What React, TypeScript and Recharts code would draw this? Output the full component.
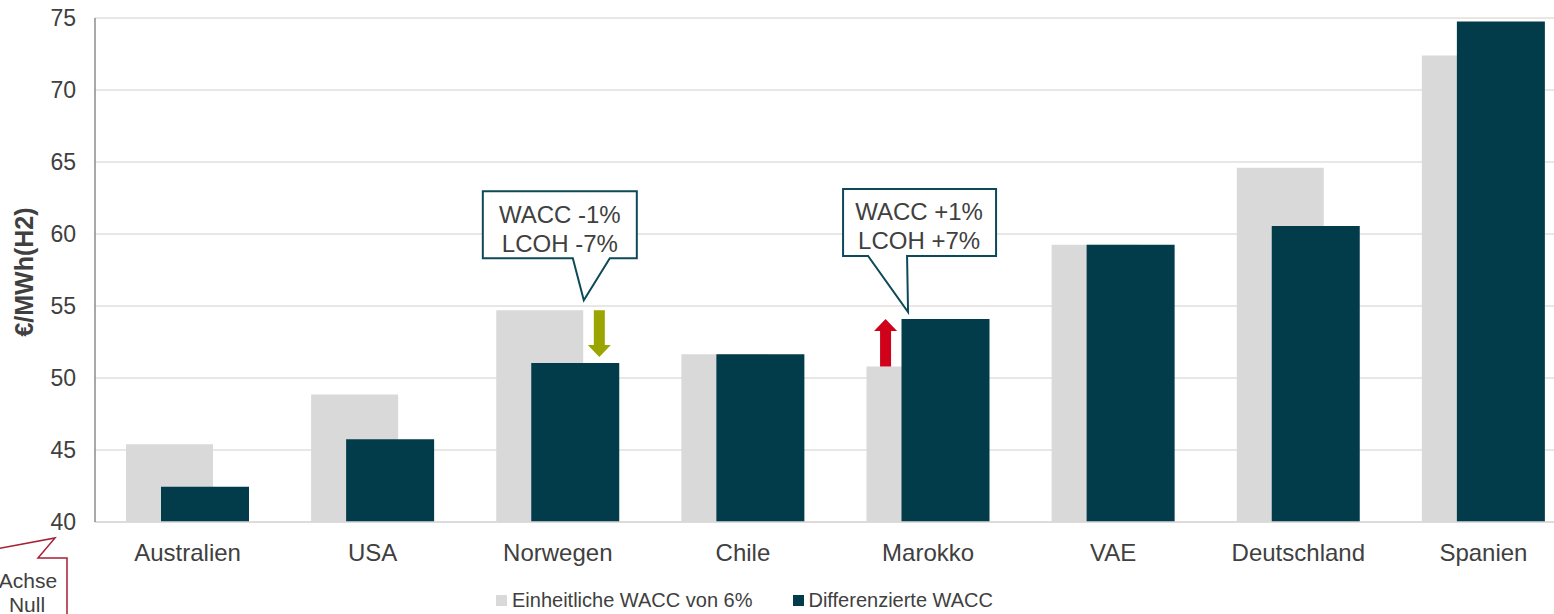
import React from 'react';
import { BarChart, Bar, XAxis, YAxis, CartesianGrid, Legend, ReferenceDot, ReferenceLine } from 'recharts';

const countries = ['Australien', 'USA', 'Norwegen', 'Chile', 'Marokko', 'VAE', 'Deutschland', 'Spanien'];
const uniformWacc = [45.4, 48.85, 54.7, 51.65, 50.8, 59.25, 64.6, 72.4];
const differentiatedWacc = [42.45, 45.75, 51.05, 51.65, 54.1, 59.25, 60.55, 74.75];
const yTicks = [40, 45, 50, 55, 60, 65, 70, 75];

const seriesNames = ['Einheitliche WACC von 6%', 'Differenzierte WACC'];
const calloutDown = ['WACC -1%', 'LCOH -7%'];
const calloutUp = ['WACC +1%', 'LCOH +7%'];

const GRAY = '#d9d9d9';
const TEAL = '#023c4b';
const TEXT = '#404040';
const FONT = 'Liberation Sans, Arial, sans-serif';

const data = countries.map((name, i) => ({
  name,
  uniform: uniformWacc[i],
  diff: differentiatedWacc[i],
}));

// arrow drawn along a vertical segment (x1,y1) -> (x2,y2), shifted sideways by dx
const makeArrow = (color: string, dx: number, tipGap: number) => (p: any) => {
  const x = p.x1 + dx;
  const y0 = p.y1;
  const dir = p.y2 > p.y1 ? 1 : -1;
  const tip = p.y2 - dir * tipGap;
  const headBase = tip - dir * 12;
  return (
    <path
      d={`M${x - 5.5},${y0} L${x + 5.5},${y0} L${x + 5.5},${headBase} L${x + 11.5},${headBase} L${x},${tip} L${x - 11.5},${headBase} L${x - 5.5},${headBase} Z`}
      fill={color}
    />
  );
};

const Callout = ({ cx, cy, box, tip, base, lines, textX, textY }: any) => {
  const [l, t, r, b] = box;
  const d = `M${cx + l},${cy + t} L${cx + r},${cy + t} L${cx + r},${cy + b} L${cx + base[1]},${cy + b} L${cx + tip[0]},${cy + tip[1]} L${cx + base[0]},${cy + b} L${cx + l},${cy + b} Z`;
  return (
    <g>
      <path d={d} fill="#fff" stroke="#0d4a57" strokeWidth={2} />
      {lines.map((s: string, i: number) => (
        <text key={s} x={cx + textX} y={cy + textY + i * 29} textAnchor="middle" dominantBaseline="central" fontSize={24} fill={TEXT} fontFamily={FONT}>
          {s}
        </text>
      ))}
    </g>
  );
};

const LegendContent = () => (
  <div style={{ display: 'flex', alignItems: 'center', fontFamily: FONT, fontSize: 20, color: TEXT, whiteSpace: 'nowrap' }}>
    <span style={{ width: 11, height: 11, background: GRAY, display: 'inline-block', marginRight: 5 }} />
    <span>{seriesNames[0]}</span>
    <span style={{ width: 11, height: 11, background: TEAL, display: 'inline-block', marginLeft: 41, marginRight: 4 }} />
    <span>{seriesNames[1]}</span>
  </div>
);

const YLabel = ({ viewBox }: any) => {
  const x = viewBox.x + 24;
  const y = viewBox.y + viewBox.height / 2 + 2;
  return (
    <text x={x} y={y} transform={`rotate(-90, ${x}, ${y})`} textAnchor="middle" dominantBaseline="central" fontSize={25} fontWeight="bold" fill={TEXT} fontFamily={FONT}>
      €/MWh(H2)
    </text>
  );
};

export default function App() {
  return (
    <div style={{ position: 'fixed', left: 0, top: 0, width: 1554, height: 614, overflow: 'hidden', background: '#fff' }}>
      <BarChart width={1576} height={614} data={data} margin={{ top: 18, right: 0, bottom: 0, left: 0 }} barGap={-52}>
        <CartesianGrid vertical={false} stroke="#e3dedb" strokeWidth={1.5} />
        <XAxis
          dataKey="name"
          height={92}
          tickLine={false}
          tickSize={0}
          tickMargin={22}
          axisLine={{ stroke: '#d9d9d9', strokeWidth: 1.5 }}
          tick={{ fontSize: 24, fill: TEXT, fontFamily: FONT }}
        />
        <YAxis
          width={95}
          domain={[40, 75]}
          ticks={yTicks}
          allowDataOverflow
          tickLine={false}
          tickSize={0}
          tickMargin={19}
          axisLine={{ stroke: '#8c8c8c', strokeWidth: 1.5 }}
          tick={{ fontSize: 23, fill: TEXT, fontFamily: FONT }}
          label={{ content: YLabel }}
        />
        <Legend verticalAlign="middle" align="center" content={LegendContent} wrapperStyle={{ top: 589, left: 496, width: 700, height: 24 }} />
        <Bar dataKey="uniform" name={seriesNames[0]} fill={GRAY} barSize={87} isAnimationActive={false} />
        <Bar dataKey="diff" name={seriesNames[1]} fill={TEAL} barSize={88} isAnimationActive={false} />
        <ReferenceLine
          segment={[{ x: 'Norwegen', y: uniformWacc[2] }, { x: 'Norwegen', y: differentiatedWacc[2] }]}
          shape={makeArrow('#9aa500', 41.5, 6)}
        />
        <ReferenceLine
          segment={[{ x: 'Marokko', y: uniformWacc[4] }, { x: 'Marokko', y: differentiatedWacc[4] }]}
          shape={makeArrow('#d0021b', -42.5, 0)}
        />
        <ReferenceDot
          x="Norwegen"
          y={uniformWacc[2]}
          shape={(p: any) => (
            <Callout cx={p.cx} cy={p.cy} box={[-75, -119, 79, -52]} base={[15, 52]} tip={[26, -10]} lines={calloutDown} textX={2} textY={-96} />
          )}
        />
        <ReferenceDot
          x="Marokko"
          y={differentiatedWacc[4]}
          shape={(p: any) => (
            <Callout cx={p.cx} cy={p.cy} box={[-85, -130, 68, -63]} base={[-60, -21]} tip={[-20, -7]} lines={calloutUp} textX={-9} textY={-107} />
          )}
        />
      </BarChart>
      <svg style={{ position: 'absolute', left: 0, top: 0, pointerEvents: 'none' }} width={120} height={614}>
        <path d="M-20,552 L55,538 L38,558 L67,558 L67,620" fill="none" stroke="#a51f36" strokeWidth={1.5} />
        <text x={28} y={580} textAnchor="middle" dominantBaseline="central" fontSize={21} fill={TEXT} fontFamily={FONT}>Achse</text>
        <text x={27} y={604} textAnchor="middle" dominantBaseline="central" fontSize={21} fill={TEXT} fontFamily={FONT}>Null</text>
      </svg>
    </div>
  );
}
